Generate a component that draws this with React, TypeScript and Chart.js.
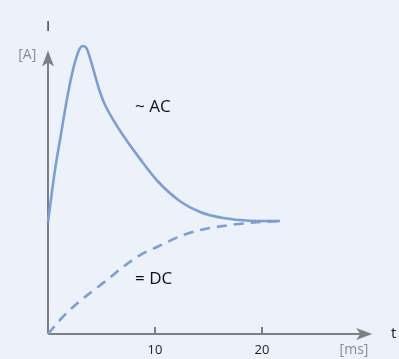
import React, { useEffect, useRef } from "react";
import { Chart, registerables } from "chart.js";

Chart.register(...registerables);

const acTime = [0, 0.65, 1.12, 1.59, 2.06, 2.52, 2.99, 3.27, 3.6, 3.93, 4.39, 4.86, 5.33, 6.07, 7.01, 8.6, 10.28, 12.34, 14.21, 16.36, 18.88, 21.68];
const acCurrent = [9.9, 14.51, 17.17, 19.82, 22.21, 24.07, 25.31, 25.49, 25.3, 24.42, 22.92, 21.42, 20.27, 19.0, 17.6, 15.5, 13.5, 11.75, 10.8, 10.27, 10.03, 10.0];

const dcTime = [0, 1.12, 2.34, 3.93, 5.51, 7.01, 8.6, 10.19, 12.62, 14.21, 17.01, 19.81, 21.68];
const dcCurrent = [0, 1.24, 2.39, 3.63, 4.78, 5.93, 6.99, 7.7, 8.76, 9.2, 9.65, 9.91, 10.0];

const xTicks = [10, 20];
const xTickLabels = ["10", "20"];

const LINE = "rgb(124,158,212)";
const AXIS = "#7d7f82";
const BG = "#edf1fa";

export default function App() {
  const ref = useRef<HTMLCanvasElement>(null);
  useEffect(() => {
    document.body.style.margin = "0";
    document.body.style.background = BG;
    const axisPlugin = {
      id: "arrowAxes",
      beforeDatasetsDraw(chart: any) {
        const ctx = chart.ctx;
        const xs = chart.scales.x;
        const ys = chart.scales.y;
        const x0 = xs.getPixelForValue(0);
        const y0 = ys.getPixelForValue(0);
        const xEnd = xs.getPixelForValue(30.3);
        const yEnd = ys.getPixelForValue(25.1);
        ctx.save();
        ctx.strokeStyle = AXIS;
        ctx.fillStyle = AXIS;
        ctx.lineWidth = 2;
        ctx.beginPath();
        ctx.moveTo(x0, y0);
        ctx.lineTo(xEnd - 8, y0);
        ctx.moveTo(x0, y0);
        ctx.lineTo(x0, yEnd + 8);
        ctx.stroke();
        ctx.beginPath();
        ctx.moveTo(xEnd, y0);
        ctx.lineTo(xEnd - 16, y0 - 6);
        ctx.lineTo(xEnd - 12, y0);
        ctx.lineTo(xEnd - 16, y0 + 6);
        ctx.closePath();
        ctx.fill();
        ctx.beginPath();
        ctx.moveTo(x0, yEnd);
        ctx.lineTo(x0 - 6, yEnd + 16);
        ctx.lineTo(x0, yEnd + 12);
        ctx.lineTo(x0 + 6, yEnd + 16);
        ctx.closePath();
        ctx.fill();
        ctx.beginPath();
        xTicks.forEach((t) => {
          const px = Math.round(xs.getPixelForValue(t));
          ctx.moveTo(px, y0);
          ctx.lineTo(px, y0 - 7);
        });
        ctx.stroke();
        ctx.textBaseline = "middle";
        ctx.textAlign = "center";
        ctx.fillStyle = "#1c1c1c";
        ctx.font = "13px 'Open Sans'";
        xTicks.forEach((t, i) => {
          ctx.fillText(xTickLabels[i], xs.getPixelForValue(t), ys.getPixelForValue(-1.4));
        });
        ctx.font = "15px 'Open Sans'";
        ctx.fillText("t", xs.getPixelForValue(32.3), ys.getPixelForValue(0));
        ctx.fillText("I", xs.getPixelForValue(0), ys.getPixelForValue(27.2));
        ctx.fillStyle = "#8a8b8e";
        ctx.font = "14px 'Open Sans'";
        ctx.fillText("[ms]", xs.getPixelForValue(28.6), ys.getPixelForValue(-1.4));
        ctx.textAlign = "right";
        ctx.fillText("[A]", xs.getPixelForValue(-1.1), ys.getPixelForValue(24.7));
        ctx.textAlign = "left";
        ctx.fillStyle = "#111";
        ctx.font = "17px 'Open Sans'";
        ctx.fillText("~ AC", xs.getPixelForValue(8.13), ys.getPixelForValue(20.1));
        ctx.fillText("= DC", xs.getPixelForValue(8.13), ys.getPixelForValue(4.87));
        ctx.restore();
      },
    };
    const chart = new Chart(ref.current!, {
      type: "line",
      data: {
        datasets: [
          {
            data: acTime.map((t, i) => ({ x: t, y: acCurrent[i] })),
            borderColor: LINE,
            borderWidth: 2.6,
            pointRadius: 0,
            cubicInterpolationMode: "monotone",
            fill: false,
            clip: false as any,
          },
          {
            data: dcTime.map((t, i) => ({ x: t, y: dcCurrent[i] })),
            borderColor: LINE,
            borderWidth: 2.6,
            borderDash: [10, 7],
            pointRadius: 0,
            cubicInterpolationMode: "monotone",
            fill: false,
            clip: false as any,
          },
        ],
      },
      options: {
        animation: false,
        responsive: false,
        layout: { padding: { left: 48, right: 30, top: 29, bottom: 25 } },
        plugins: { legend: { display: false }, tooltip: { enabled: false } },
        scales: {
          x: { type: "linear", min: 0, max: 30, display: false },
          y: { type: "linear", min: 0, max: 27, display: false },
        },
      },
      plugins: [axisPlugin],
    });
    return () => chart.destroy();
  }, []);
  return (
    <div style={{ width: 399, height: 359, background: BG }}>
      <canvas ref={ref} width={399} height={359} />
    </div>
  );
}
